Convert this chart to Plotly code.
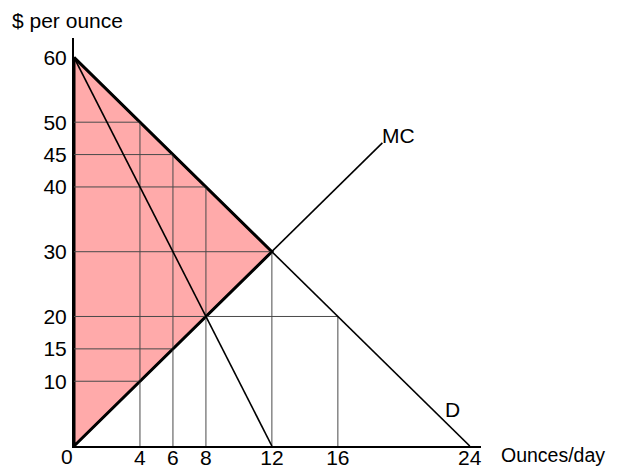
import plotly.graph_objects as go

# Data
demand_q = [0, 24]
demand_p = [60, 0]
mr_q = [0, 12]
mr_p = [60, 0]
mc_q = [0, 18.7]
mc_p = [0, 46.8]
area_q = [0, 12, 0, 0]
area_p = [60, 30, 0, 60]
hguide_p = [50, 45, 40, 30, 20, 15, 10]
hguide_q = [4, 6, 8, 12, 16, 6, 4]
vguide_q = [4, 6, 8, 12, 16]
vguide_p = [50, 45, 40, 30, 20]
x_ticks = [4, 6, 8, 12, 16, 24]
y_ticks = [10, 15, 20, 30, 40, 45, 50, 60]

FONT = "Liberation Sans, Arial, sans-serif"
FS = 21

fig = go.Figure()

# shaded triangle
fig.add_trace(go.Scatter(x=area_q, y=area_p, fill="toself", fillcolor="#ffaaaa",
                         line=dict(color="black", width=3), mode="lines",
                         hoverinfo="skip", showlegend=False))

# guide lines
gx, gy = [], []
for p, q in zip(hguide_p, hguide_q):
    gx += [0, q, None]
    gy += [p, p, None]
for q, p in zip(vguide_q, vguide_p):
    gx += [q, q, None]
    gy += [0, p, None]
fig.add_trace(go.Scatter(x=gx, y=gy, mode="lines", line=dict(color="#4a4a4a", width=1),
                         hoverinfo="skip", showlegend=False))

# curves
for qs, ps in [(demand_q, demand_p), (mr_q, mr_p), (mc_q, mc_p)]:
    fig.add_trace(go.Scatter(x=qs, y=ps, mode="lines", line=dict(color="black", width=1.6),
                             hoverinfo="skip", showlegend=False))

ann = [
    dict(text="MC", x=mc_q[1], y=mc_p[1], xanchor="left", yanchor="middle", xshift=-2, yshift=7),
    dict(text="D", x=22.97, y=5.05, xanchor="center", yanchor="middle", yshift=4),
    dict(text="0", x=0, y=0, xanchor="center", yanchor="middle", xshift=-7, yshift=-10),
    dict(text="Ounces/day", x=24.68, y=0, xanchor="left", yanchor="middle", xshift=18, yshift=-9,
         font_size=19.5),
    dict(text="$ per ounce", x=0, y=63, xanchor="center", yanchor="middle", xshift=-7, yshift=18),
]
for a in ann:
    size = a.pop("font_size", FS)
    a.update(xref="x", yref="y", showarrow=False, font=dict(family=FONT, size=size, color="black"))
fig.update_layout(annotations=ann)

fig.update_xaxes(range=[0, 24.68], tickvals=x_ticks, ticktext=[str(v) for v in x_ticks],
                 showline=True, linecolor="black", linewidth=2, showgrid=False, zeroline=False,
                 ticks="", tickfont=dict(family=FONT, size=FS, color="black"),
                 automargin=False, ticklabelstandoff=-8)
fig.update_yaxes(range=[0, 63.0], tickvals=y_ticks, ticktext=[str(v) for v in y_ticks],
                 showline=True, linecolor="black", linewidth=2, showgrid=False, zeroline=False,
                 ticks="", tickfont=dict(family=FONT, size=FS, color="black"),
                 automargin=False, ticklabelstandoff=1)

fig.update_traces(cliponaxis=False)
# page body has an 8px margin, so the figure is 8px smaller and offset accordingly
fig.update_layout(width=609, height=460, margin=dict(l=66, r=136, t=30, b=22),
                  plot_bgcolor="white", paper_bgcolor="white", font=dict(family=FONT))

fig.write_html("out.html")
